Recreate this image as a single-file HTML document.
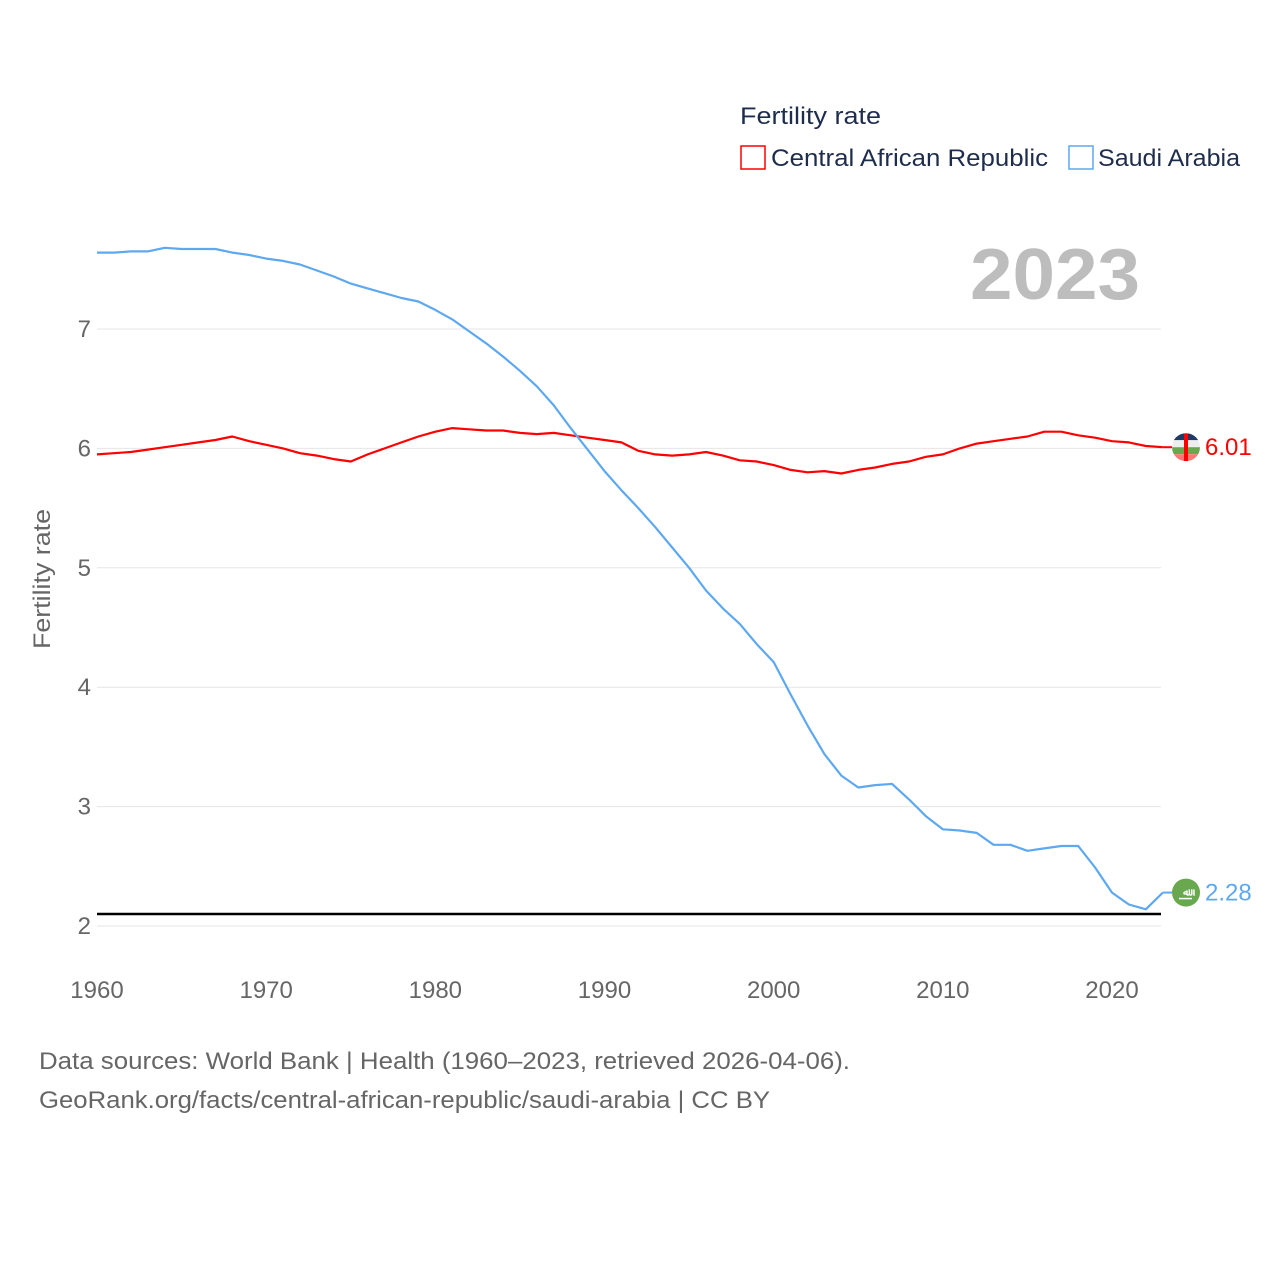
<!DOCTYPE html>
<html><head><meta charset="utf-8">
<style>
html,body{margin:0;padding:0;background:#fff;}
body{width:1280px;height:1280px;position:relative;overflow:hidden;font-family:"Liberation Sans",sans-serif;}
svg text{font-family:"Liberation Sans",sans-serif;}
</style></head>
<body>
<svg id="chart" width="1280" height="1280" xmlns="http://www.w3.org/2000/svg">
  <g id="grid"></g>
  <g id="yticks"></g>
  <g id="xticks"></g>
  <text transform="translate(50,579) rotate(-90)" text-anchor="middle" font-size="24" fill="#666" textLength="140" lengthAdjust="spacingAndGlyphs">Fertility rate</text>
  <text x="1140" y="299" text-anchor="end" font-size="72" font-weight="bold" fill="#bdbdbd" textLength="170" lengthAdjust="spacingAndGlyphs">2023</text>
  <text x="740" y="124" font-size="24" fill="#1f2d4d" textLength="141" lengthAdjust="spacingAndGlyphs">Fertility rate</text>
  <rect x="741" y="146" width="24" height="23" fill="#fff" stroke="#ff0000" stroke-width="1.5"/>
  <text x="771" y="166" font-size="24" fill="#1f2d4d" textLength="277" lengthAdjust="spacingAndGlyphs">Central African Republic</text>
  <rect x="1069" y="146" width="24" height="23" fill="#fff" stroke="#5ea8ef" stroke-width="1.5"/>
  <text x="1098" y="166" font-size="24" fill="#1f2d4d" textLength="142" lengthAdjust="spacingAndGlyphs">Saudi Arabia</text>
  <g id="series"></g>
  <g id="endlabels"></g>
  <text x="39" y="1069" font-size="24" fill="#666" textLength="811" lengthAdjust="spacingAndGlyphs">Data sources: World Bank | Health (1960–2023, retrieved 2026-04-06).</text>
  <text x="39" y="1108" font-size="24" fill="#666" textLength="731" lengthAdjust="spacingAndGlyphs">GeoRank.org/facts/central-african-republic/saudi-arabia | CC BY</text>
</svg>
<script>
const startYear = 1960;
const carValues = [5.95,5.96,5.97,5.99,6.01,6.03,6.05,6.07,6.10,6.06,6.03,6.00,5.96,5.94,5.91,5.89,5.95,6.00,6.05,6.10,6.14,6.17,6.16,6.15,6.15,6.13,6.12,6.13,6.11,6.09,6.07,6.05,5.98,5.95,5.94,5.95,5.97,5.94,5.90,5.89,5.86,5.82,5.80,5.81,5.79,5.82,5.84,5.87,5.89,5.93,5.95,6.00,6.04,6.06,6.08,6.10,6.14,6.14,6.11,6.09,6.06,6.05,6.02,6.01];
const saudiValues = [7.64,7.64,7.65,7.65,7.68,7.67,7.67,7.67,7.64,7.62,7.59,7.57,7.54,7.49,7.44,7.38,7.34,7.30,7.26,7.23,7.16,7.08,6.98,6.88,6.77,6.65,6.52,6.36,6.17,5.99,5.81,5.65,5.50,5.34,5.17,5.00,4.81,4.66,4.53,4.36,4.21,3.94,3.68,3.44,3.26,3.16,3.18,3.19,3.06,2.92,2.81,2.80,2.78,2.68,2.68,2.63,2.65,2.67,2.67,2.49,2.28,2.18,2.14,2.28];
const yTicks = [2,3,4,5,6,7];
const xTicks = [1960,1970,1980,1990,2000,2010,2020];
const replacementLevel = [2.1];

const NS = "http://www.w3.org/2000/svg";
function xs(yr){ return 97 + (yr-1960)*(1015/60); }
function ys(v){ return 329 + (7-v)*119.4; }
function mk(tag, attrs, parent){ const e=document.createElementNS(NS,tag); for(const k in attrs) e.setAttribute(k,attrs[k]); parent.appendChild(e); return e; }

const grid=document.getElementById('grid'), yt=document.getElementById('yticks'), xt=document.getElementById('xticks');
yTicks.forEach(v=>{
  const l=mk('line',{x1:97,x2:1161,y1:ys(v),y2:ys(v),stroke:'#e6e6e6','stroke-width':1},grid);
  
  
  const t=mk('text',{x:91,y:ys(v)+8,'text-anchor':'end','font-size':24,fill:'#666'},yt);
  t.textContent=v;
  
  
});
xTicks.forEach(yr=>{
  const t=mk('text',{x:xs(yr),y:998,'text-anchor':'middle','font-size':24,fill:'#666'},xt);
  t.textContent=yr;
  
  
});
const ser=document.getElementById('series');
replacementLevel.forEach(v=>{
  const l=mk('line',{x1:97,x2:1161,y1:ys(v),y2:ys(v),stroke:'#000','stroke-width':2.5},ser);
  
  
});
function line(vals,color,name){
  const d=vals.map((v,i)=>(i?'L':'M')+xs(startYear+i).toFixed(1)+','+ys(v).toFixed(1)).join(' ');
  const p=mk('path',{d:d,fill:'none',stroke:color,'stroke-width':2.2,'stroke-linejoin':'round'},ser);
  
  
}
line(carValues,'#ff0000','line-central-african-republic');
line(saudiValues,'#5ea8ef','line-saudi-arabia');

const el=document.getElementById('endlabels');
const lastYr=startYear+carValues.length-1;
(function(){
  const v=carValues[carValues.length-1], cx=1186, cy=ys(v);
  const g=mk('g',{},el);
  
  
  mk('line',{x1:xs(lastYr),x2:cx-14,y1:cy,y2:cy,stroke:'#ff0000','stroke-width':2},g);
  const cp=mk('clipPath',{id:'cc'},g); mk('circle',{cx:cx,cy:cy,r:14},cp);
  const gg=mk('g',{'clip-path':'url(#cc)'},g);
  mk('rect',{x:cx-14,y:cy-14,width:28,height:7,fill:'#1f3a66'},gg);
  mk('rect',{x:cx-14,y:cy-7,width:28,height:7,fill:'#eee'},gg);
  mk('rect',{x:cx-14,y:cy,width:28,height:7,fill:'#6aa84f'},gg);
  mk('rect',{x:cx-14,y:cy+7,width:28,height:7,fill:'#f77'},gg);
  mk('rect',{x:cx-2,y:cy-14,width:4,height:28,fill:'#f00'},gg);
  const t=mk('text',{x:1205,y:cy+8,'font-size':24,fill:'#ff0000'},el);
  t.textContent=v.toFixed(2);
  
  
})();
(function(){
  const v=saudiValues[saudiValues.length-1], cx=1186, cy=ys(v);
  const g=mk('g',{},el);
  
  
  mk('line',{x1:xs(lastYr),x2:cx-14,y1:cy,y2:cy,stroke:'#5ea8ef','stroke-width':2},g);
  mk('circle',{cx:cx,cy:cy,r:14,fill:'#6aa84f'},g);
  const s=mk('text',{x:cx,y:cy+3,'text-anchor':'middle','font-size':10,'font-weight':'bold',fill:'#fff'},g);
  s.textContent='ﷲ';
  mk('line',{x1:cx-7,x2:cx+6,y1:cy+6,y2:cy+6,stroke:'#fff','stroke-width':1.5},g);
  const t=mk('text',{x:1205,y:cy+8,'font-size':24,fill:'#5ea8ef'},el);
  t.textContent=v.toFixed(2);
  
  
})();
</script>
</body></html>
